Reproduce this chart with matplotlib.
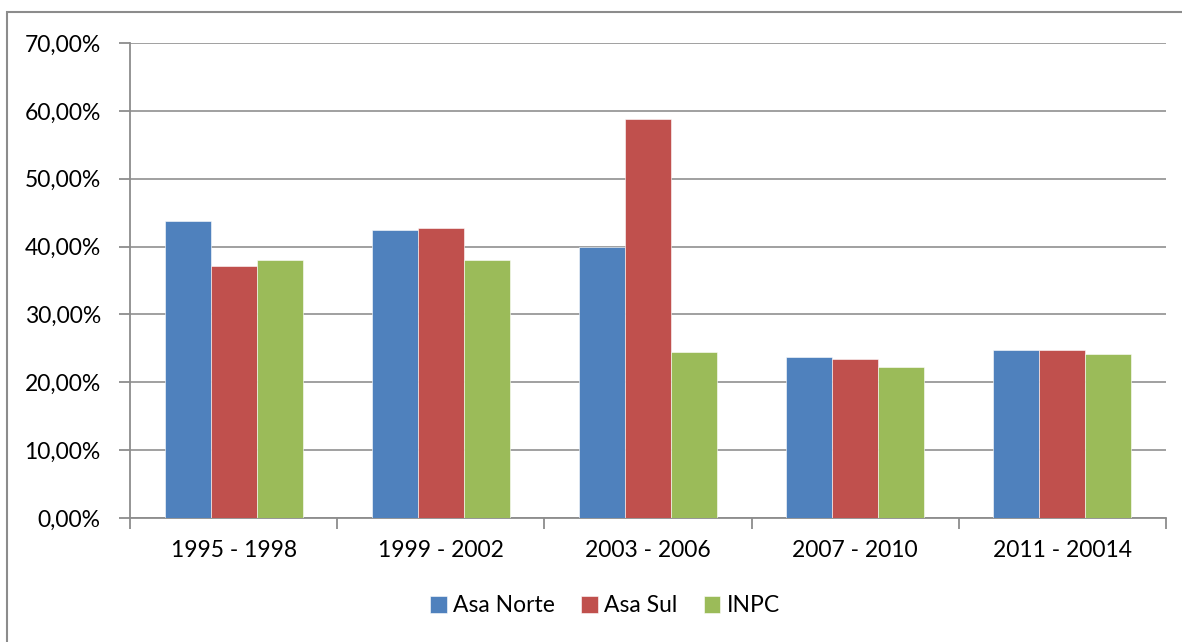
import matplotlib
matplotlib.use("Agg")
import matplotlib.pyplot as plt
import numpy as np
from matplotlib.patches import Rectangle

plt.rcParams["font.family"] = ["Lato", "DejaVu Sans"]

periods = ["1995 - 1998", "1999 - 2002", "2003 - 2006", "2007 - 2010", "2011 - 20014"]
asa_norte = [43.7, 42.5, 40.0, 23.7, 24.8]
asa_sul = [37.2, 42.8, 58.8, 23.4, 24.8]
inpc = [38.0, 38.0, 24.4, 22.3, 24.1]

series = [("Asa Norte", asa_norte, "#4f81bd"),
          ("Asa Sul", asa_sul, "#c0504d"),
          ("INPC", inpc, "#9bbb59")]

fig = plt.figure(figsize=(11.82, 6.42), dpi=100)
fig.patches.append(Rectangle((7 / 1182, -0.1), 1.2, 1 - 12 / 642 + 0.1,
                             transform=fig.transFigure, fill=False,
                             edgecolor="#8c8c8c", linewidth=1.5))
ax = fig.add_axes([130 / 1182, 1 - 518 / 642, 1036 / 1182, 475 / 642])

x = np.arange(len(periods))
w = 0.222
for i, (name, vals, color) in enumerate(series):
    ax.bar(x + (i - 1) * w, vals, width=w, color=color, label=name,
           edgecolor="white", linewidth=0.4, zorder=3)

ax.set_xlim(-0.5, len(periods) - 0.5)
ax.set_ylim(0, 70)
ax.set_yticks(np.arange(0, 71, 10))
ax.set_yticklabels([f"{v},00%" for v in range(0, 71, 10)])
ax.yaxis.grid(True, color="#999999", linewidth=1.3, zorder=0)

ax.set_xticks(x)
ax.set_xticklabels(periods)
ax.set_xticks(np.arange(-0.5, len(periods)), minor=True)
ax.tick_params(axis="x", which="major", length=0, pad=16, labelsize=16.5)
ax.tick_params(axis="x", which="minor", length=8, color="#8c8c8c", width=1.3)
ax.tick_params(axis="y", length=8, color="#8c8c8c", width=1.3, pad=13, labelsize=16.5)

for side in ["top", "right"]:
    ax.spines[side].set_visible(False)
for side in ["left", "bottom"]:
    ax.spines[side].set_color("#8c8c8c")
    ax.spines[side].set_linewidth(1.3)

fig.legend(loc="center", bbox_to_anchor=(0.512, 1 - 606 / 642), ncol=3,
           frameon=False, fontsize=16.5, handlelength=0.72, handleheight=0.72,
           handletextpad=0.28, columnspacing=1.15)

fig.savefig("out.png", dpi=100)
